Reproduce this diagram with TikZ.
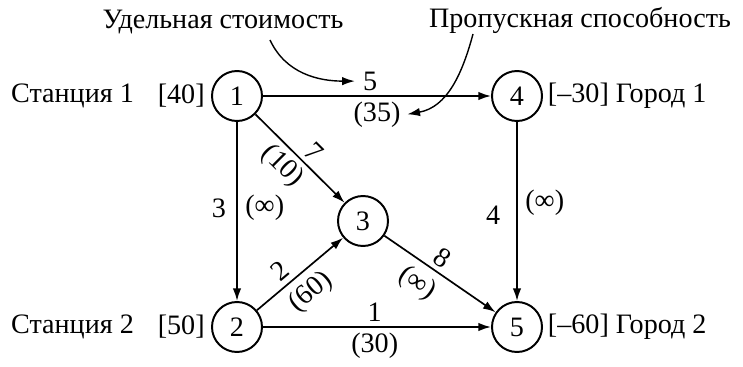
\documentclass[tikz,border=0pt]{standalone}
\usepackage{fontspec}
\setmainfont{Liberation Serif}
\usetikzlibrary{arrows.meta,positioning}

\begin{document}
\begin{tikzpicture}[x=0.025cm,y=-0.025cm,
    vertex/.style={draw,circle,line width=1.4pt,minimum size=1.25cm,inner sep=0pt},
    arc/.style={line width=1.2pt,-{Latex[length=9pt,width=6pt]}},
    pointer/.style={line width=1pt,-{Latex[length=9pt,width=6pt]}},
    every node/.style={font=\fontsize{20}{24}\selectfont}]
            \useasboundingbox (0,0) rectangle (743,367);

            \coordinate (P1) at (237,96);
            \coordinate (P2) at (237,327);
            \coordinate (P3) at (363,221);
            \coordinate (P4) at (517,96);
            \coordinate (P5) at (517,327);

            \node[vertex] (n1) at (P1) {1};
            \node[vertex] (n2) at (P2) {2};
            \node[vertex] (n3) at (P3) {3};
            \node[vertex] (n4) at (P4) {4};
            \node[vertex] (n5) at (P5) {5};

            % supply and demand
            \node[left=1pt of n1] (s1) {[40]};
            \node[left=0.35cm of s1] {Станция 1};
            \node[left=1pt of n2] (s2) {[50]};
            \node[left=0.35cm of s2] {Станция 2};
            \node[right=0pt of n4] (d1) {[–30] Город 1};
            \node[right=0pt of n5] (d2) {[–60] Город 2};

            \draw[arc] (n1) -- node[above,pos=0.47] (c14) {5} node[below] (u14) {(35)} (n4);
            \draw[arc] (n1) -- node[left=4pt,pos=0.48] {3} node[right=2pt,pos=0.48] {(∞)} (n2);
            \draw[arc] (n1) -- node[above,sloped,pos=0.54] {7} node[below,sloped,pos=0.44] {(10)} (n3);
            \draw[arc] (n4) -- node[left=8pt,pos=0.52] {4} node[right=2pt,pos=0.45] {(∞)} (n5);
            \draw[arc] (n2) -- node[above,sloped,pos=0.38] {2} node[below=2pt,sloped,pos=0.47] {(60)} (n3);
            \draw[arc] (n3) -- node[above,sloped,pos=0.45] {8} node[below=2pt,sloped,pos=0.4] {(∞)} (n5);
            \draw[arc] (n2) -- node[above,pos=0.49] {1} node[below,pos=0.49] {(30)} (n5);

            % annotations
            \node (cost) at (223,22) {Удельная стоимость};
            \node (cap) at (580,20) {Пропускная способность};
            \coordinate (costtail) at (270,40);
            \coordinate (captail) at (473,34);
            \draw[pointer] (costtail) to[out=-65,in=180] ([xshift=-2pt]c14.west);
            \draw[pointer] (captail) to[out=-105,in=10] ([xshift=1pt]u14.east);
        \end{tikzpicture}
\end{document}
